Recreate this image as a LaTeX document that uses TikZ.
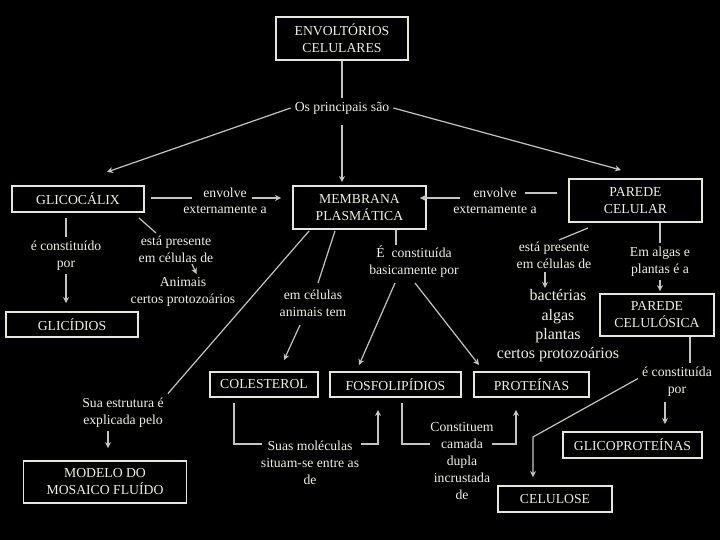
\documentclass[tikz,border=0pt]{standalone}
\usepackage{fontspec}
\setmainfont{Liberation Serif}
\usetikzlibrary{arrows.meta}
\definecolor{txt}{HTML}{F0EFE6}
\definecolor{bord}{HTML}{E6E6DA}
\definecolor{conn}{HTML}{C4C4C0}
\tikzset{
  box/.style={draw=bord, line width=1.8pt, text=txt, inner sep=0pt, align=center,
    font=\fontsize{13.7}{17}\selectfont},
  lbl/.style={text=txt, inner sep=4pt, align=center, font=\fontsize{13.7}{17}\selectfont},
  biglbl/.style={text=txt, inner sep=4pt, align=center, font=\fontsize{16}{19.3}\selectfont},
  line/.style={draw=conn, line width=1.2pt},
  arr/.style={line, -{Stealth[length=6pt,width=6pt]}},
}
\begin{document}
\begin{tikzpicture}[x=1pt,y=-1pt]
\fill[black] (0,0) rectangle (720,540);
\useasboundingbox (0,0) rectangle (720,540);

% boxes
\node[box, minimum width=132pt, minimum height=43pt] (env) at (342,38.5) {ENVOLTÓRIOS\\CELULARES};
\node[box, minimum width=132pt, minimum height=26pt] (glico) at (78,199) {GLICOCÁLIX};
\node[box, minimum width=133pt, minimum height=43pt] (memb) at (359.5,207.5) {MEMBRANA\\PLASMÁTICA};
\node[box, minimum width=133pt, minimum height=43pt] (parede) at (635.5,200.5) {PAREDE\\CELULAR};
\node[box, minimum width=132pt, minimum height=25pt] (glicid) at (72,324.5) {GLICÍDIOS};
\node[box, minimum width=163pt, minimum height=42pt] (modelo) at (105,482) {MODELO DO\\MOSAICO FLUÍDO};
\node[box, minimum width=108pt, minimum height=25pt] (colest) at (264,384.5) {COLESTEROL};
\node[box, minimum width=131pt, minimum height=25pt] (fosfo) at (395.5,384.5) {FOSFOLIPÍDIOS};
\node[box, minimum width=115pt, minimum height=25pt] (prot) at (531.5,384.5) {PROTEÍNAS};
\node[box, minimum width=114pt, minimum height=42pt] (celulos) at (657,315) {PAREDE\\CELULÓSICA};
\node[box, minimum width=139pt, minimum height=26pt] (glicop) at (632.5,445) {GLICOPROTEÍNAS};
\node[box, minimum width=114pt, minimum height=26pt] (celulose) at (555,499) {CELULOSE};

% labels
\node[lbl] (principais) at (342,108) {Os principais são};
\node[lbl] (envLa) at (225,193) {envolve};
\node[lbl] (envLb) at (225,210) {externamente a};
\node[lbl] (envRa) at (495,193) {envolve};
\node[lbl] (envRb) at (495,210) {externamente a};
\node[lbl] (constGlico) at (66,255.5) {é constituído\\por};
\node[lbl] (presGlico) at (176,249.5) {está presente\\em células de};
\node[lbl] (animais) at (183,292) {Animais\\certos protozoários};
\node[lbl] (emcel) at (313,303.5) {em células\\animais tem};
\node[lbl] (suaEst) at (123,412.5) {Sua estrutura é\\explicada pelo};
\node[lbl] (constMemb) at (414,261.5) {É\ \ constituída\\basicamente por};
\node[lbl] (suas) at (310,462.5) {Suas moléculas\\situam-se entre as\\de};
\node[lbl] (constituem) at (462,461) {Constituem\\camada\\dupla\\incrustada\\de};
\node[lbl] (presPar) at (554,255.5) {está presente\\em células de};
\node[biglbl] (bact) at (558,326) {bactérias\\algas\\plantas\\certos protozoários};
\node[lbl] (emAlgas) at (660,261.5) {Em algas e\\plantas é a};
\node[lbl] (constPar) at (677,381.5) {é constituída\\por};

% free ends / bends
\coordinate (gA) at (107,172);
\coordinate (pA) at (621,170);
\coordinate (eL1) at (192,198);
\coordinate (eL2) at (252,198);
\coordinate (eR1) at (525,193);
\coordinate (eR2) at (460,198);
\coordinate (gP) at (156,233);
\coordinate (aP1) at (192,264);
\coordinate (aP2) at (196.5,274);
\coordinate (mE) at (318,283);
\coordinate (mE2) at (300,325);
\coordinate (cT) at (284,360);
\coordinate (mC) at (396,245);
\coordinate (cm1) at (395,283);
\coordinate (cm2) at (415,283);
\coordinate (fT) at (359,365);
\coordinate (pT) at (479,365);
\coordinate (sL) at (262,444);
\coordinate (sR) at (361,444);
\coordinate (kL) at (430,444);
\coordinate (kR) at (492,444);
\coordinate (pp1) at (559,240);
\coordinate (pp0) at (588,228);
\coordinate (bA) at (545,272);
\coordinate (cc1) at (533,437);

% connectors
\draw[line] (env.south) -- (principais.north);
\draw[arr, shorten <=7pt, shorten >=3pt] (principais.south) -- (principais.south |- memb.north);
\draw[arr] (principais.west) -- (gA);
\draw[arr] (principais.east) -- (pA);

\draw[line, shorten <=6pt] (glico.east |- eL1) -- (eL1);
\draw[arr, shorten >=11pt] (eL2) -- (memb.west |- eL2);
\draw[line, shorten <=11pt] (parede.west |- eR1) -- (eR1);
\draw[arr, shorten >=-7pt] (eR2) -- (memb.east |- eR2);

\draw[line, shorten <=5pt] (glico.south -| constGlico.north) -- (constGlico.north);
\draw[arr, shorten >=8pt] (constGlico.south) -- (constGlico.south |- glicid.north);
\draw[line] ([xshift=-6pt,yshift=-5pt]glico.south east) -- (gP);
\draw[arr] (aP1) -- (aP2);

\draw[line] ([xshift=17pt,yshift=-1pt]memb.south west) -- (suaEst.north east);
\draw[arr, shorten >=12pt] ([xshift=-15pt]suaEst.south) -- ([xshift=-15pt]suaEst.south |- modelo.north);

\draw[line] ([xshift=-24.5pt,yshift=-1pt]memb.south) -- (mE);
\draw[arr] (mE2) -- (cT);

\draw[line] (mC |- memb.south) -- (mC);
\draw[arr] (cm1) -- (fT);
\draw[arr] (cm2) -- (pT);

\draw[line, shorten <=5pt] ([xshift=-30pt]colest.south) |- (sL);
\draw[arr, shorten >=12pt] (sR) -| ([xshift=-17.5pt]fosfo.south);
\draw[line, shorten <=5pt] ([xshift=6.5pt]fosfo.south) |- (kL);
\draw[arr, shorten >=12pt] (kR) -| ([xshift=-15.5pt]prot.south);

\draw[line] (pp0) -- (pp1);
\draw[arr] (bA) -- ([yshift=-16pt]bA);
\draw[line] ([xshift=24.5pt]parede.south) -- (emAlgas.north);
\draw[arr, shorten >=2pt] (emAlgas.south) -- (emAlgas.south |- celulos.north);
\draw[line] ([xshift=33pt]celulos.south) -- ([xshift=33pt]celulos.south |- constPar.north);
\draw[arr, shorten >=7pt, shorten <=2pt] ([xshift=-12pt]constPar.south) -- ([xshift=-12pt]constPar.south |- glicop.north);
\draw[arr, shorten >=8pt] ([yshift=3pt]constPar.west) -- (cc1) -- (cc1 |- celulose.north);
\end{tikzpicture}
\end{document}
